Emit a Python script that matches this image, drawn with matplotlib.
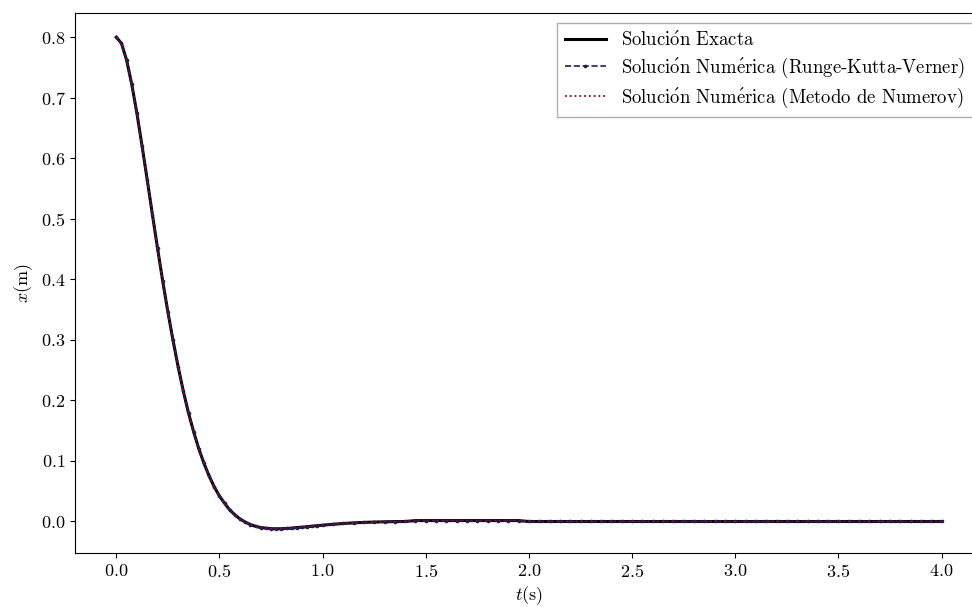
import numpy as np
import matplotlib.pyplot as plt

plt.rcParams['font.family'] = ['cmr10', 'DejaVu Serif']
plt.rcParams['mathtext.fontset'] = 'cm'
plt.rcParams['axes.unicode_minus'] = False
plt.rcParams['axes.formatter.use_mathtext'] = True

# tiempo (s) y posicion (m)
t_vals = [0.0, 0.025, 0.05, 0.075, 0.1, 0.125, 0.15, 0.175, 0.2, 0.225,
          0.25, 0.275, 0.3, 0.325, 0.35, 0.375, 0.4, 0.425, 0.45, 0.475,
          0.5, 0.525, 0.55, 0.575, 0.6, 0.625, 0.65, 0.675, 0.7, 0.725,
          0.75, 0.775, 0.8, 0.825, 0.85, 0.875, 0.9, 0.925, 0.95, 0.975,
          1.0, 1.05, 1.1, 1.15, 1.2, 1.25, 1.3, 1.35, 1.4, 1.45,
          1.5, 1.55, 1.6, 1.65, 1.7, 1.75, 1.8, 1.85, 1.9, 1.95,
          2.0, 2.05, 2.1, 2.15, 2.2, 2.25, 2.3, 2.35, 2.4, 2.45,
          2.5, 2.55, 2.6, 2.65, 2.7, 2.75, 2.8, 2.85, 2.9, 2.95,
          3.0, 3.05, 3.1, 3.15, 3.2, 3.25, 3.3, 3.35, 3.4, 3.45,
          3.5, 3.55, 3.6, 3.65, 3.7, 3.75, 3.8, 3.85, 3.9, 3.95, 4.0]

x_exacta = [0.800, 0.790, 0.762, 0.722, 0.674, 0.620, 0.564, 0.507, 0.451, 0.397,
            0.346, 0.299, 0.255, 0.215, 0.179, 0.148, 0.120, 0.096, 0.075, 0.057,
            0.042, 0.030, 0.019, 0.011, 0.004, -0.001, -0.005, -0.008, -0.010, -0.011,
            -0.012, -0.012, -0.012, -0.0115, -0.011, -0.010, -0.0094, -0.0086, -0.0077, -0.0069,
            -0.0061, -0.0046, -0.0033, -0.0023, -0.0015, -0.0009, -0.0005, -0.0002, 0.0, 0.0015,
            0.0015, 0.0015, 0.0015, 0.0015, 0.0015, 0.0015, 0.0015, 0.0015, 0.0015, 0.0015,
            0.0, 0.0, 0.0, 0.0, 0.0, 0.0, 0.0, 0.0, 0.0, 0.0,
            0.0, 0.0, 0.0, 0.0, 0.0, 0.0, 0.0, 0.0, 0.0, 0.0,
            0.0, 0.0, 0.0, 0.0, 0.0, 0.0, 0.0, 0.0, 0.0, 0.0,
            0.0, 0.0, 0.0, 0.0, 0.0, 0.0, 0.0, 0.0, 0.0, 0.0, 0.0]

# las soluciones numericas coinciden con la exacta a la escala de la grafica
x_rkv = list(x_exacta)
x_numerov = list(x_exacta)

labels = [r'Soluci$\acute{\mathrm{o}}$n Exacta',
          r'Soluci$\acute{\mathrm{o}}$n Num$\acute{\mathrm{e}}$rica (Runge-Kutta-Verner)',
          r'Soluci$\acute{\mathrm{o}}$n Num$\acute{\mathrm{e}}$rica (Metodo de Numerov)']

fig = plt.figure(figsize=(9.72, 6.07), dpi=100)
ax = fig.add_axes([0.0772, 0.089, 0.934, 0.8896])

ax.plot(t_vals, x_exacta, color='black', lw=2.2, label=labels[0])
ax.plot(t_vals, x_rkv, color='#1c1f4f', ls='--', lw=1.2, marker='o',
        markersize=1.6, label=labels[1])
ax.plot(t_vals, x_numerov, color='#7a0d2a', ls=':', lw=1.3, label=labels[2])

ax.set_xlim(-0.2, 4.2)
ax.set_ylim(-0.052, 0.84)
ax.set_xticks(np.arange(0, 4.01, 0.5))
ax.set_yticks(np.arange(0, 0.81, 0.1))
ax.tick_params(labelsize=13)
ax.set_xlabel('$t$(s)', fontsize=13, labelpad=3)
ax.set_ylabel('$x$(m)', fontsize=13, labelpad=4)

ax.legend(loc='upper right', fontsize=13.5, handlelength=2.2,
          fancybox=False, edgecolor='0.6', borderaxespad=0.55,
          labelspacing=0.3)

fig.savefig('out.png', dpi=100)
